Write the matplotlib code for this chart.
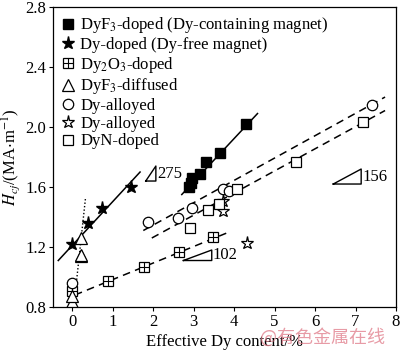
import matplotlib
matplotlib.use("Agg")
import matplotlib.pyplot as plt
import numpy as np
from matplotlib.lines import Line2D
from matplotlib.legend_handler import HandlerTuple

plt.rcParams['font.family'] = ['Liberation Serif', 'DejaVu Serif']
plt.rcParams['mathtext.fontset'] = 'stix'

# ---- data ----
dyf3_doped_x = [2.90, 2.93, 2.97, 3.15, 3.30, 3.65, 4.30]
dyf3_doped_y = [1.60, 1.63, 1.66, 1.69, 1.77, 1.83, 2.02]

dy_doped_x = [0.00, 0.39, 0.74, 1.45]
dy_doped_y = [1.22, 1.36, 1.46, 1.60]

dy2o3_x = [0.00, 0.88, 1.77, 2.63, 3.49]
dy2o3_y = [0.91, 0.975, 1.07, 1.17, 1.27]

dyf3_diff_x = [0.00, 0.00, 0.21, 0.21, 0.23]
dyf3_diff_y = [0.835, 0.875, 1.14, 1.15, 1.26]

dy_alloy_c_x = [0.00, 1.88, 2.62, 2.96, 3.72, 3.88, 7.41]
dy_alloy_c_y = [0.96, 1.365, 1.395, 1.46, 1.59, 1.575, 2.15]

dy_alloy_s_x = [3.72, 3.74, 4.32]
dy_alloy_s_y = [1.51, 1.44, 1.23]

dyn_x = [2.92, 3.36, 3.62, 4.07, 5.53, 7.18]
dyn_y = [1.33, 1.45, 1.49, 1.585, 1.765, 2.035]

# fitted trend lines (end points)
fit_dyf3_x, fit_dyf3_y = [2.71, 4.58], [1.55, 2.09]
fit_dy_x, fit_dy_y = [-0.34, 1.68], [1.11, 1.70]
fit_dy2o3_x, fit_dy2o3_y = [0.07, 3.88], [0.88, 1.30]
fit_alloy_x, fit_alloy_y = [1.76, 7.73], [1.31, 2.20]
fit_dyn_x, fit_dyn_y = [1.97, 7.73], [1.26, 2.11]
fit_diff_x, fit_diff_y = [0.05, 0.33], [0.82, 1.52]

# slope triangles
slope_labels = ['275', '102', '156']
tri_x0 = [1.82, 2.75, 6.45]
tri_x1 = [2.07, 3.45, 7.14]
tri_y0 = [1.64, 1.11, 1.62]
tri_y1 = [1.74, 1.18, 1.72]

x_ticks = [0, 1, 2, 3, 4, 5, 6, 7, 8]
y_ticks = [0.8, 1.2, 1.6, 2.0, 2.4, 2.8]

fig = plt.figure(figsize=(4.0, 3.53), dpi=100)
ax = fig.add_axes([0.1325, 0.1303, 0.8575, 0.8497])

dash = (0, (5, 3.5))
ax.plot(fit_dyf3_x, fit_dyf3_y, '-', color='black', lw=1.1)
ax.plot(fit_dy_x, fit_dy_y, '-', color='black', lw=1.1)
ax.plot(fit_dy2o3_x, fit_dy2o3_y, linestyle=dash, color='black', lw=1.1)
ax.plot(fit_alloy_x, fit_alloy_y, linestyle=dash, color='black', lw=1.1)
ax.plot(fit_dyn_x, fit_dyn_y, linestyle=dash, color='black', lw=1.1)
ax.plot(fit_diff_x, fit_diff_y, linestyle=(0, (1, 1.5)), color='black', lw=1.0)

ms = 6.5
h1, = ax.plot(dyf3_doped_x, dyf3_doped_y, 's', color='black', ms=ms, ls='none',
              label=r'DyF$_3$-doped (Dy-containing magnet)')
h2, = ax.plot(dy_doped_x, dy_doped_y, '*', color='black', ms=ms + 3, ls='none',
              label='Dy-doped (Dy-free magnet)')
ax.plot(dy2o3_x, dy2o3_y, 's', mfc='white', mec='black', mew=0.9, ms=ms, ls='none')
ax.plot(dy2o3_x, dy2o3_y, '+', color='black', mew=0.8, ms=ms, ls='none')
h4, = ax.plot(dyf3_diff_x, dyf3_diff_y, '^', mfc='white', mec='black', mew=0.9,
              ms=ms + 2, ls='none', label=r'DyF$_3$-diffused')
h5, = ax.plot(dy_alloy_c_x, dy_alloy_c_y, 'o', mfc='white', mec='black', mew=0.9,
              ms=ms + 1, ls='none', label='Dy-alloyed')
h6, = ax.plot(dy_alloy_s_x, dy_alloy_s_y, '*', mfc='white', mec='black', mew=0.9,
              ms=ms + 3, ls='none', label='Dy-alloyed')
h7, = ax.plot(dyn_x, dyn_y, 's', mfc='white', mec='black', mew=0.9, ms=ms,
              ls='none', label='DyN-doped')

h3a = Line2D([], [], marker='s', mfc='white', mec='black', mew=0.9, ms=ms, ls='none')
h3b = Line2D([], [], marker='+', color='black', mew=0.8, ms=ms, ls='none')

handles = [h1, h2, (h3a, h3b), h4, h5, h6, h7]
labels = [h1.get_label(), h2.get_label(), r'Dy$_2$O$_3$-doped', h4.get_label(),
          h5.get_label(), h6.get_label(), h7.get_label()]
ax.legend(handles, labels, loc='upper left', frameon=False, fontsize=12,
          handlelength=0.8, handletextpad=0.35, labelspacing=0.1,
          borderaxespad=0.2, borderpad=0.3,
          handler_map={tuple: HandlerTuple(ndivide=1, pad=0)})

for x0, x1, y0, y1, lab in zip(tri_x0, tri_x1, tri_y0, tri_y1, slope_labels):
    ax.plot([x0, x1, x1, x0], [y0, y0, y1, y0], '-', color='black', lw=1.0)
    ax.text(x1 + 0.03, (y0 + y1) / 2, lab, fontsize=12, ha='left', va='center')

ax.set_xlim(-0.47, 8)
ax.set_ylim(0.8, 2.8)
ax.set_xticks(x_ticks)
ax.set_yticks(y_ticks)
ax.set_yticklabels([f'{v:.1f}' for v in y_ticks])
ax.tick_params(direction='out', length=3, width=0.8, labelsize=12, pad=2)
for s in ax.spines.values():
    s.set_linewidth(0.9)

ax.set_xlabel('Effective Dy content/%', fontsize=12, labelpad=3)
ax.set_ylabel(r'$H_{cj}$/(MA$\cdot$m$^{-1}$)', fontsize=12, labelpad=2)

fig.text(0.65, 0.045, '@有色金属在线', fontsize=13, color='#e07a88', alpha=0.75,
         family=['Noto Sans CJK SC', 'DejaVu Sans'], ha='left', va='center')

fig.savefig('out.png', dpi=100)
